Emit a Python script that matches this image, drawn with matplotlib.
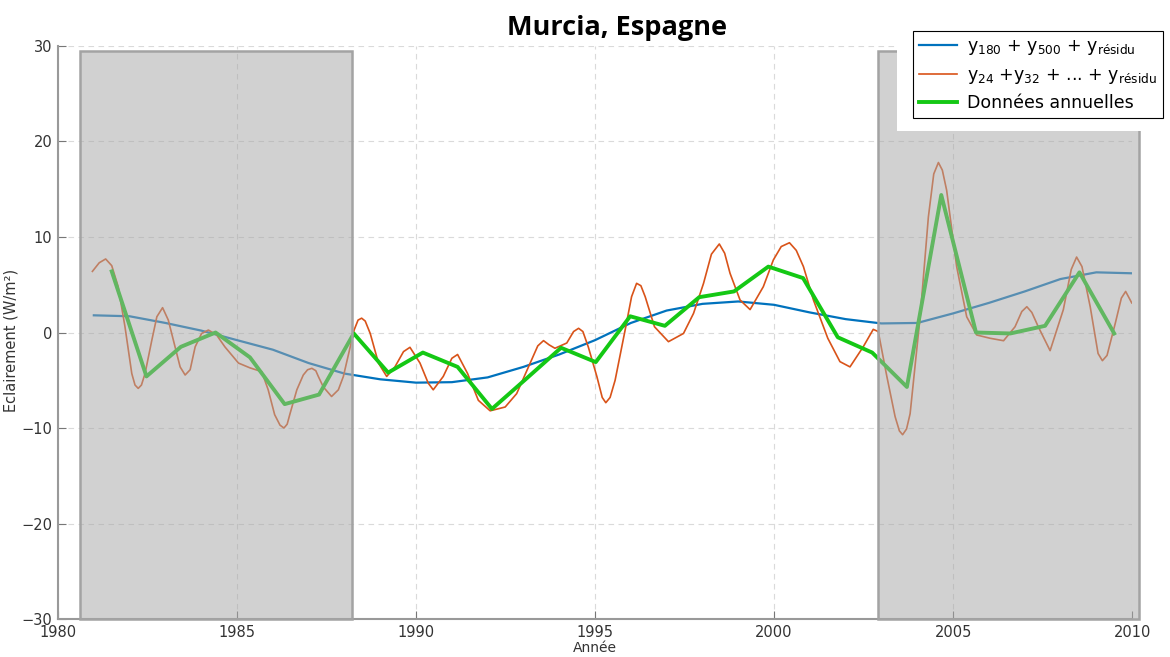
import matplotlib
matplotlib.use("Agg")
import matplotlib.pyplot as plt
from matplotlib.patches import Rectangle

# Donnees
annees_vert = [1981.50, 1982.47, 1983.43, 1984.40, 1985.36, 1986.33, 1987.29, 1988.26,
               1989.22, 1990.19, 1991.16, 1992.12, 1993.09, 1994.05, 1995.02, 1995.98,
               1996.95, 1997.91, 1998.88, 1999.84, 2000.81, 2001.78, 2002.74, 2003.71,
               2004.67, 2005.64, 2006.60, 2007.57, 2008.53, 2009.50]
donnees_annuelles = [6.4, -4.6, -1.5, 0.0, -2.6, -7.5, -6.5, -0.1,
                     -4.2, -2.1, -3.6, -8.0, -4.8, -1.6, -3.1, 1.7,
                     0.7, 3.7, 4.3, 6.9, 5.7, -0.5, -2.1, -5.7,
                     14.4, 0.0, -0.1, 0.7, 6.3, -0.1]

annees_bleu = [1981.0, 1982.0, 1983.0, 1984.0, 1985.0, 1986.0, 1987.0, 1988.0, 1989.0,
               1990.0, 1991.0, 1992.0, 1993.0, 1994.0, 1995.0, 1996.0, 1997.0, 1998.0,
               1999.0, 2000.0, 2001.0, 2002.0, 2003.0, 2004.0, 2005.0, 2006.0, 2007.0,
               2008.0, 2009.0, 2010.0]
y_basse_freq = [1.8, 1.7, 1.0, 0.2, -0.8, -1.8, -3.2, -4.3, -4.9,
                -5.25, -5.2, -4.7, -3.6, -2.3, -0.8, 1.0, 2.3, 3.0,
                3.25, 2.9, 2.1, 1.4, 0.95, 1.0, 2.0, 3.1, 4.3,
                5.6, 6.3, 6.2]

annees_orange = [1980.96, 1981.15, 1981.33, 1981.50, 1981.68, 1981.87, 1982.06, 1982.15, 1982.24,
                 1982.33, 1982.43, 1982.62, 1982.76, 1982.92, 1983.08, 1983.27, 1983.41, 1983.55,
                 1983.69, 1983.83, 1984.01, 1984.20, 1984.43, 1984.66, 1985.04, 1985.36,
                 1985.69, 1985.87, 1986.05, 1986.20, 1986.31, 1986.40, 1986.48, 1986.67, 1986.85,
                 1986.97, 1987.09, 1987.20,
                 1987.27, 1987.41, 1987.64, 1987.83, 1987.97, 1988.16, 1988.27, 1988.38, 1988.48,
                 1988.58, 1988.72, 1988.95, 1989.18, 1989.41, 1989.65, 1989.83, 1990.11, 1990.34,
                 1990.48, 1990.76, 1991.00, 1991.16, 1991.44, 1991.74, 1992.07, 1992.49,
                 1992.81, 1993.14, 1993.40, 1993.56, 1993.72, 1993.88, 1994.21, 1994.40, 1994.54,
                 1994.66, 1994.81, 1995.05,
                 1995.20, 1995.30, 1995.42, 1995.56, 1995.84, 1996.02, 1996.16, 1996.28, 1996.40,
                 1996.66, 1997.05,
                 1997.47, 1997.75, 1998.03, 1998.25, 1998.47, 1998.62, 1998.77, 1999.05,
                 1999.33, 1999.70, 1999.98, 2000.20, 2000.43, 2000.62, 2000.82, 2001.10,
                 2001.50, 2001.84, 2002.12, 2002.49, 2002.77, 2002.91, 2003.15, 2003.38,
                 2003.50, 2003.59, 2003.70, 2003.80, 2004.08, 2004.31, 2004.46, 2004.59, 2004.70,
                 2004.82, 2005.10, 2005.38,
                 2005.66, 2006.03, 2006.41, 2006.73, 2006.92, 2007.06, 2007.20, 2007.38, 2007.71,
                 2008.08, 2008.30, 2008.45, 2008.60, 2008.83, 2009.05, 2009.17, 2009.30, 2009.53,
                 2009.70, 2009.82, 2009.99]
y_haute_freq = [6.4, 7.3, 7.7, 7.0, 4.8, 0.6, -4.3, -5.5, -5.85,
                -5.5, -4.3, -0.8, 1.65, 2.6, 1.3, -1.5, -3.6, -4.45,
                -3.9, -1.5, -0.1, 0.26, -0.26, -1.5, -3.2, -3.7,
                -4.1, -6.0, -8.6, -9.7, -10.0, -9.6, -8.5, -6.0, -4.45,
                -3.9, -3.75, -4.0,
                -4.6, -5.7, -6.7, -6.0, -4.6, -1.5, 0.26, 1.3, 1.5,
                1.2, -0.1, -3.2, -4.6, -3.6, -2.0, -1.55, -3.2, -5.3,
                -6.0, -4.6, -2.7, -2.3, -4.3, -7.1, -8.2, -7.8,
                -6.4, -3.6, -1.4, -0.85, -1.3, -1.65, -1.1, 0.1, 0.44,
                0.1, -1.5, -4.6,
                -6.8, -7.35, -6.8, -5.0, 0.26, 3.75, 5.15, 4.9, 3.75,
                0.6, -0.96,
                -0.1, 2.0, 5.15, 8.2, 9.27, 8.3, 6.2, 3.4,
                2.4, 4.8, 7.6, 9.0, 9.4, 8.6, 6.9, 3.4,
                -0.6, -3.05, -3.6, -1.5, 0.33, 0.1, -4.6, -8.8,
                -10.3, -10.7, -10.1, -8.5, 1.65, 12.1, 16.6, 17.8, 17.0,
                14.9, 6.9, 1.65,
                -0.26, -0.6, -0.86, 0.6, 2.2, 2.7, 2.1, 0.6, -1.9,
                2.4, 6.6, 7.9, 6.9, 2.7, -2.2, -2.95, -2.4, 0.96,
                3.6, 4.3, 3.1]

# periodes grisees (hors periode commune)
zones_grises = [(1980.6, 1988.2), (2002.9, 2010.2)]
haut_zone = 29.5

fig = plt.figure(figsize=(11.7, 6.57), dpi=100)
ax = fig.add_axes([0.0496, 0.0578, 0.918, 0.8722])

ax.plot(annees_bleu, y_basse_freq, color="#0072BD", lw=1.6, zorder=3,
        label="y$_\\mathregular{180}$ + y$_\\mathregular{500}$ + y$_\\mathregular{résidu}$")
ax.plot(annees_orange, y_haute_freq, color="#D95319", lw=1.2, zorder=3,
        label="y$_\\mathregular{24}$ +y$_\\mathregular{32}$ + ... + y$_\\mathregular{résidu}$")
ax.plot(annees_vert, donnees_annuelles, color="#14c814", lw=2.8, zorder=4,
        label="Données annuelles")

for x0, x1 in zones_grises:
    ax.add_patch(Rectangle((x0, -30), x1 - x0, haut_zone + 30, facecolor="#a8a8a8",
                           alpha=0.52, edgecolor="none", zorder=5, clip_on=False))
    ax.add_patch(Rectangle((x0, -30), x1 - x0, haut_zone + 30, facecolor="none",
                           edgecolor="#a3a3a3", lw=1.8, zorder=6, clip_on=False))

ax.set_xlim(1980, 2010)
ax.set_ylim(-30, 30)
ax.set_xticks([1980, 1985, 1990, 1995, 2000, 2005, 2010])
ax.set_yticks([-30, -20, -10, 0, 10, 20, 30])
ax.grid(True, color="#dadada", linestyle=(0, (5, 4)), lw=0.8)
ax.set_axisbelow(True)
for s in ["top", "right"]:
    ax.spines[s].set_visible(False)
for s in ["left", "bottom"]:
    ax.spines[s].set_color("#999999")
    ax.spines[s].set_linewidth(1.5)
ax.tick_params(direction="in", length=6, color="#777777", labelsize=10.5,
               labelcolor="#333333")
ax.tick_params(axis="x", pad=4)
ax.tick_params(axis="y", pad=4)

ax.set_xlabel("Année", fontsize=10, color="#333333")
ax.xaxis.set_label_coords(0.5, -0.0385)
ax.set_ylabel("Eclairement (W/m²)", fontsize=10.5, color="#333333")
ax.yaxis.set_label_coords(-0.037, 0.487)

fig.text(0.527, 0.958, "Murcia, Espagne", ha="center", va="center",
         fontsize=19.5, fontweight="bold", family="Open Sans")

# fond blanc derriere la legende
fig.patches.append(Rectangle((0.767, 0.80), 0.233, 0.175, transform=fig.transFigure,
                             facecolor="white", edgecolor="none", zorder=10))
leg = fig.legend(loc="upper left", bbox_to_anchor=(0.780, 0.953), fontsize=12.5,
                 frameon=True, fancybox=False, edgecolor="black", framealpha=1,
                 handlelength=2.2, borderpad=0.35, labelspacing=0.5,
                 handletextpad=0.6, borderaxespad=0)
leg.get_frame().set_linewidth(0.8)
leg.set_zorder(11)

fig.savefig("out.png", dpi=100)
